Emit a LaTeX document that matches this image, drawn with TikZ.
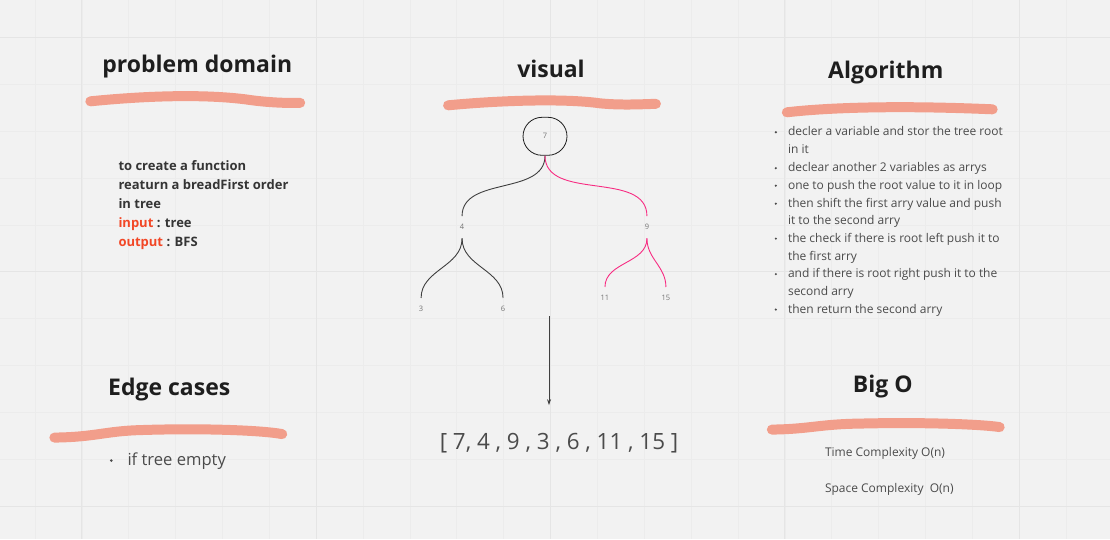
\documentclass[tikz,border=0pt]{standalone}
\usepackage{fontspec}
\setmainfont{Open Sans}
\usetikzlibrary{arrows.meta, positioning, calc}

\definecolor{board}{HTML}{F2F2F2}
\definecolor{gridminor}{HTML}{ECECEC}
\definecolor{gridmajor}{HTML}{E5E5E5}
\definecolor{ink}{HTML}{1E1E1E}
\definecolor{salmon}{HTML}{F29E8B}
\definecolor{pinky}{HTML}{F72C82}
\definecolor{flag}{HTML}{F24726}

\begin{document}
\begin{tikzpicture}[
    x=1pt, y=-1pt,
    title/.style={font=\bfseries\fontsize{23}{28}\selectfont, text=ink, anchor=base, inner sep=0},
    marker/.style={line width=10pt, line cap=round, draw=salmon},
    body/.style={font=\bfseries\fontsize{13}{19}\selectfont, text=ink!90, anchor=base west, inner sep=0},
    item/.style={font=\fontsize{12}{17}\selectfont, text=ink!80, anchor=base west, inner sep=0},
    leaf/.style={font=\fontsize{7.5}{9}\selectfont, text=black!55, minimum height=22pt, inner sep=0},
    root/.style={draw=ink, line width=0.8pt, rounded corners=19pt, minimum width=44pt, minimum height=38pt, font=\fontsize{7.5}{9}\selectfont, text=black!55},
    edge/.style={line width=0.9pt, draw=ink!85},
    pinkedge/.style={line width=0.9pt, draw=pinky},
    arrow/.style={line width=0.8pt, draw=ink!85, -{Stealth[length=6pt,width=4pt]}},
]

    % Board and grid
    \fill[board] (0,0) rectangle (1110,539);
    \foreach \k in {0,...,22}
        \draw[gridminor, line width=0.6pt] (34.6+46.9*\k,0) -- (34.6+46.9*\k,539);
    \foreach \k in {0,...,10}
        \draw[gridminor, line width=0.6pt] (0,37+46.9*\k) -- (1110,37+46.9*\k);
    \foreach \k in {1,...,5}
        \draw[gridmajor, line width=0.8pt] (81.5+234.5*\k-234.5,0) -- (81.5+234.5*\k-234.5,539);
    \foreach \k in {0,1,2}
        \draw[gridmajor, line width=0.8pt] (0,37+234.5*\k) -- (1110,37+234.5*\k);

    % Titles
    \node (prob) [title] at (197,72) {problem domain};
    \node (vis) [title] at (551,77.5) {visual};
    \node (algo) [title] at (886,77.7) {Algorithm};
    \node (edge) [title] at (169,395) {Edge cases};
    \node (bigo) [title] at (883,392) {Big O};

    % Marker strokes
    \draw[marker] (90,101) .. controls (150,95) and (205,94) .. (245,99) .. controls (265,102) and (285,103) .. (300,102.5);
    \draw[marker] (448,105) .. controls (500,100) and (565,98) .. (600,103) .. controls (620,105) and (640,104) .. (656,103.5);
    \draw[marker] (787,112) .. controls (830,107) and (900,105) .. (993,109);
    \draw[marker] (54,437.5) .. controls (95,437) and (105,431) .. (140,430) .. controls (200,428) and (260,430) .. (282,434);
    \draw[marker] (772,429.5) .. controls (810,429) and (820,424) .. (860,423.5) .. controls (920,422) and (980,424) .. (1000,427);

    % Problem domain
    \foreach \i/\y/\t in {1/170/to create a function,
                          2/189/reaturn a breadFirst order,
                          3/208/in tree,
                          4/227/\textcolor{flag}{input} : tree,
                          5/246/\textcolor{flag}{output} : BFS}
        \node (prob-\i) [body] at (118,\y) {\t};

    % Tree
    \node (seven) [root] at (545,136) {7};
    \node (four) [leaf] at (462,227) {4};
    \node (nine) [leaf] at (647,227) {9};
    \node (three) [leaf] at (421,309) {3};
    \node (six) [leaf] at (503,309) {6};
    \node (eleven) [leaf] at (605,298) {11};
    \node (fifteen) [leaf] at (666,298) {15};

    \draw[edge] (seven.south) to[out=-90, in=90] (four.north);
    \draw[pinkedge] (seven.south) to[out=-90, in=90] (nine.north);
    \draw[edge] (four.south) to[out=-90, in=90] (three.north);
    \draw[edge] (four.south) to[out=-90, in=90] (six.north);
    \draw[pinkedge] (nine.south) to[out=-90, in=90] (eleven.north);
    \draw[pinkedge] (nine.south) to[out=-90, in=90] (fifteen.north);

    % Result
    \node (arr) [font=\fontsize{22.4}{26}\selectfont, text=ink!80, anchor=base, inner sep=0] at (559,449.5) {[ 7, 4 , 9 , 3 , 6 , 11 , 15 ]};
    \coordinate (down) at (549,316);
    \draw[arrow, shorten >=28pt] (down) -- (down |- arr.north);

    % Algorithm
    \foreach \i/\y/\t in {1/135.5/decler a variable and stor the tree root,
                          2/153/in it,
                          3/171.5/declear another 2 variables as arrys,
                          4/189/one to push the root value to it in loop,
                          5/207/then shift the first arry value and push,
                          6/224.5/it to the second arry,
                          7/242/the check if there is root left push it to,
                          8/260/the first arry,
                          9/277.5/and if there is root right push it to the,
                          10/295/second arry,
                          11/313/then return the second arry}
        \node (algo-\i) [item] at (788,\y) {\t};
    \foreach \i in {1,3,4,5,7,9,11}
        \fill[ink!80] ([xshift=-12pt,yshift=3.6pt]algo-\i.base west) circle (1.2pt);

    % Edge cases
    \node (empty) [item, font=\fontsize{16.6}{20}\selectfont] at (127,465.5) {if tree empty};
    \fill[ink!80] ([xshift=-16pt,yshift=5pt]empty.base west) circle (1.5pt);

    % Big O
    \node (time) [item] at (825,456) {Time Complexity O(n)};
    \node (space) [item] at (825,492) {Space Complexity\ \ O(n)};

\end{tikzpicture}
\end{document}
